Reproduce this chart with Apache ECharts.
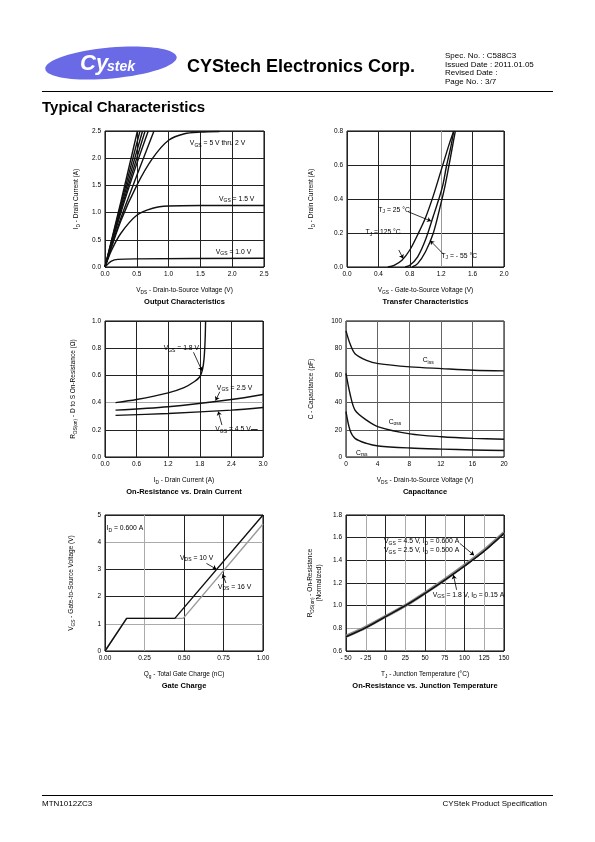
<!DOCTYPE html>
<html><head><meta charset="utf-8">
<script src="https://cdn.jsdelivr.net/npm/echarts/dist/echarts.min.js"></script>
<style>html,body{margin:0;padding:0;background:#fff}#c{width:595px;height:842px}</style>
</head><body><div id="c"></div>
<script>
// ===== DATA =====
// 1. Output characteristics  [VDS (V), ID (A)]
const outVgs5  = [[0,0],[0.25,1.2],[0.51,2.5]];
const outVgs45 = [[0,0],[0.25,1.15],[0.55,2.5]];
const outVgs4  = [[0,0],[0.25,1.1],[0.59,2.5]];
const outVgs35 = [[0,0],[0.25,1.05],[0.63,2.5]];
const outVgs3  = [[0,0],[0.25,1.0],[0.5,1.9],[0.68,2.5]];
const outVgs25 = [[0,0],[0.25,0.9],[0.5,1.68],[0.77,2.5]];
const outVgs2  = [[0,0],[0.25,0.85],[0.5,1.5],[0.75,2.0],[1.0,2.33],[1.25,2.45],[1.5,2.48],[1.8,2.49]];
const outVgs15 = [[0,0],[0.1,0.3],[0.25,0.62],[0.5,0.95],[0.75,1.08],[1.0,1.12],[1.5,1.13],[2.5,1.13]];
const outVgs10 = [[0,0],[0.05,0.06],[0.1,0.11],[0.2,0.14],[0.5,0.15],[2.5,0.16]];
// 2. Transfer characteristics [VGS (V), ID (A)]
const trT125 = [[0.52,0],[0.6,0.01],[0.7,0.04],[0.8,0.1],[0.9,0.19],[1.0,0.29],[1.1,0.42],[1.2,0.57],[1.3,0.72],[1.36,0.8]];
const trT25  = [[0.74,0],[0.8,0.01],[0.9,0.06],[1.0,0.16],[1.1,0.3],[1.17,0.4],[1.22,0.48],[1.27,0.6],[1.32,0.7],[1.36,0.8]];
const trTm55 = [[0.83,0],[0.9,0.02],[1.0,0.09],[1.1,0.2],[1.2,0.38],[1.25,0.48],[1.3,0.6],[1.34,0.7],[1.38,0.8]];
// 3. On-resistance vs drain current [ID (A), RDS(on) (ohm)]
const rdVgs18 = [[0.2,0.40],[0.6,0.423],[1.2,0.472],[1.5,0.51],[1.7,0.555],[1.8,0.59],[1.85,0.64],[1.88,0.72],[1.9,0.85],[1.91,1.0]];
const rdVgs25 = [[0.2,0.345],[1.2,0.37],[2.4,0.423],[3.0,0.46]];
const rdVgs45 = [[0.2,0.306],[1.2,0.32],[2.4,0.345],[3.0,0.364]];
// 4. Capacitance [VDS (V), C (pF)]
const capCiss = [[0,92.7],[0.5,83.4],[1.14,76],[2.6,71.1],[4.1,68.7],[8.1,66.3],[12.1,65],[16.1,63.8],[20,63.3]];
const capCoss = [[0,61.4],[0.5,46.7],[1.14,34.5],[2.6,27.1],[4.1,22.2],[8.1,17],[12.1,14.9],[16.1,13.7],[20,13]];
const capCrss = [[0,33.3],[0.5,19.8],[1.14,13.7],[2.6,10],[4.1,8.1],[8.1,6.6],[12.1,5.8],[16.1,5.2],[20,4.8]];
// 5. Gate charge [Qg (nC), VGS (V)]
const gcVds10 = [[0,0],[0.137,1.2],[0.442,1.2],[1.0,5.0]];
const gcVds16 = [[0,0],[0.137,1.2],[0.495,1.2],[1.0,4.67]];
// 6. Normalized on-resistance vs temperature [TJ (C), RDS(on) norm]
const rtVgs45 = [[-50,0.726],[-25,0.806],[0,0.903],[25,1.0],[50,1.109],[75,1.226],[100,1.35],[125,1.482],[150,1.638]];
const rtVgs25 = [[-50,0.73],[-25,0.81],[0,0.905],[25,1.0],[50,1.112],[75,1.23],[100,1.356],[125,1.49],[150,1.645]];
const rtVgs18 = [[-50,0.722],[-25,0.803],[0,0.9],[25,0.998],[50,1.107],[75,1.224],[100,1.347],[125,1.478],[150,1.632]];
// axis ranges: [min, max, interval, decimals of tick labels]
const axes = [
  {x:[0,2.5,0.5,1], y:[0,2.5,0.5,1]},
  {x:[0,2.0,0.4,1], y:[0,0.8,0.2,1]},
  {x:[0,3.0,0.6,1], y:[0,1.0,0.2,1]},
  {x:[0,20,4,0],    y:[0,100,20,0]},
  {x:[0,1.0,0.25,2],y:[0,5,1,0]},
  {x:[-50,150,25,0],y:[0.6,1.8,0.2,1]}
];

// ===== STYLE / LAYOUT =====
const FONT = 'Liberation Sans, Arial, sans-serif';
const D = '#222', L = '#aaa';
const grids = [
  {left:105, top:131, width:159, height:136},
  {left:347, top:131, width:157, height:136},
  {left:105, top:321, width:158, height:136},
  {left:346, top:321, width:158, height:136},
  {left:105, top:515, width:158, height:136},
  {left:346, top:515, width:158, height:136}
];
const xGridColors = [[D],[D,D,D,'#999',D,D],[D],['#666'],[D,L,D,D,D],[D,L,D,L,D,L,D,L,D]];
const yGridColors = [[D],[D],[D,D,L,D,D,D],['#555'],[D,L,D,D,L,D],[D,L,D,D,D,D,D]];

const RN = {n:{fontSize:6.5,fontFamily:FONT,color:'#000',lineHeight:9},
            s:{fontSize:4.8,fontFamily:FONT,color:'#000',verticalAlign:'bottom'}};
const RA = {n:{fontSize:6.8,fontFamily:FONT,color:'#000',lineHeight:9},
            s:{fontSize:5,fontFamily:FONT,color:'#000',verticalAlign:'bottom'}};
const sub = (a,b) => `{n|${a}}{s|${b}}`;
const t = a => `{n|${a}}`;

const xNames = [
  sub('V','DS')+t(' - Drain-to-Source Voltage (V)'),
  sub('V','GS')+t(' - Gate-to-Source Voltage (V)'),
  sub('I','D')+t(' - Drain Current (A)'),
  sub('V','DS')+t(' - Drain-to-Source Voltage (V)'),
  sub('Q','g')+t(' - Total Gate Charge (nC)'),
  sub('T','J')+t(' - Junction Temperature (°C)')
];
const yNames = [
  sub('I','D')+t(' - Drain Current (A)'),
  sub('I','D')+t(' - Drain Current (A)'),
  sub('R','DS(on)')+t(' - D to S On-Resistance (Ω)'),
  t('C - Capacitance (pF)'),
  sub('V','GS')+t(' - Gate-to-Source Voltage (V)'),
  sub('R','DS(on)')+t(' - On-Resistance')+'\n'+t('(Normalized)')
];
const yNameGaps = [24,31,27,30,29,22];
const titles = ['Output Characteristics','Transfer Characteristics','On-Resistance vs. Drain Current',
  'Capacitance','Gate Charge','On-Resistance vs. Junction Temperature'];

function fmtX(v, d, isT){ if (isT && v < 0) return '- ' + Math.abs(v); return v.toFixed(d); }

const xAxis = axes.map((a,i)=>({
  type:'value', gridIndex:i, min:a.x[0], max:a.x[1], interval:a.x[2],
  axisLine:{show:false}, axisTick:{show:false},
  axisLabel:{fontSize:6.5, fontFamily:FONT, color:'#000', margin:4, formatter:v=>fmtX(v,a.x[3],i===5)},
  splitLine:{show:true, lineStyle:{color:xGridColors[i], width:1}},
  name:xNames[i], nameLocation:'middle', nameGap:19, nameTextStyle:{rich:RN}
}));
const yAxis = axes.map((a,i)=>({
  type:'value', gridIndex:i, min:a.y[0], max:a.y[1], interval:a.y[2],
  axisLine:{show:false}, axisTick:{show:false},
  axisLabel:{fontSize:6.5, fontFamily:FONT, color:'#000', margin:4, formatter:v=>v.toFixed(a.y[3])},
  splitLine:{show:true, lineStyle:{color:yGridColors[i], width:1}},
  name:yNames[i], nameLocation:'middle', nameRotate:90, nameGap:yNameGaps[i], nameTextStyle:{rich:RN, align:'center'}
}));

function line(gi, data, extra){
  return Object.assign({type:'line', xAxisIndex:gi, yAxisIndex:gi, data:data, symbol:'none', showSymbol:false,
    smooth:0.3, lineStyle:{color:'#111', width:1.4}, z:3, silent:true}, extra||{});
}
function ann(x, y, text, pos){
  return {coord:[x,y], symbol:'circle', symbolSize:0,
    label:{show:true, position:pos||'inside', distance:0, formatter:text, rich:RA, color:'#000'}};
}
function ptr(x1,y1,x2,y2,arrow){
  return [{coord:[x1,y1], symbol:'none'},{coord:[x2,y2], symbol: arrow===false?'none':'arrow', symbolSize:4}];
}
function marks(points, lines){
  const o = {};
  if (points) o.markPoint = {silent:true, data:points, itemStyle:{color:'transparent'}};
  if (lines) o.markLine = {silent:true, symbolSize:4, label:{show:false}, lineStyle:{color:'#000', width:0.8, type:'solid'}, data:lines};
  return o;
}

const series = [
  // chart 1
  line(0,outVgs5,{smooth:false}), line(0,outVgs45,{smooth:false}), line(0,outVgs4,{smooth:false}),
  line(0,outVgs35,{smooth:false}), line(0,outVgs3), line(0,outVgs25), line(0,outVgs2),
  line(0,outVgs15),
  line(0,outVgs10, marks([
    ann(1.77,2.27, sub('V','GS')+t(' = 5 V thru 2 V')),
    ann(2.07,1.25, sub('V','GS')+t(' = 1.5 V')),
    ann(2.02,0.28, sub('V','GS')+t(' = 1.0 V'))
  ])),
  // chart 2
  line(1,trT125), line(1,trT25),
  line(1,trTm55, marks([
    ann(0.6,0.335, sub('T','J')+t(' = 25 °C')),
    ann(0.46,0.204, sub('T','J')+t(' = 125 °C')),
    ann(1.43,0.064, sub('T','J')+t(' = - 55 °C'))
  ],[
    ptr(0.78,0.325,1.07,0.27), ptr(0.66,0.1,0.715,0.05), ptr(1.23,0.075,1.06,0.155)
  ])),
  // chart 3
  line(2,rdVgs18), line(2,rdVgs25),
  line(2,rdVgs45, marks([
    ann(1.45,0.80, sub('V','GS')+t(' = 1.8 V')),
    ann(2.46,0.51, sub('V','GS')+t(' = 2.5 V')),
    ann(2.43,0.203, sub('V','GS')+t(' = 4.5 V'))
  ],[
    ptr(1.68,0.77,1.84,0.635), ptr(2.18,0.48,2.1,0.415), ptr(2.22,0.235,2.15,0.335),
    ptr(2.77,0.203,2.9,0.203,false)
  ])),
  // chart 4
  line(3,capCiss), line(3,capCoss),
  line(3,capCrss, marks([
    ann(10.4,71, sub('C','iss')), ann(6.2,26, sub('C','oss')), ann(2.0,3.2, sub('C','rss'))
  ])),
  // chart 5
  line(4,gcVds16,{smooth:false, lineStyle:{color:'#999', width:1.4}}),
  line(4,gcVds10,Object.assign({smooth:false}, marks([
    ann(0.01,4.5, sub('I','D')+t(' = 0.600 A'), 'right'),
    ann(0.58,3.42, sub('V','DS')+t(' = 10 V')),
    ann(0.82,2.35, sub('V','DS')+t(' = 16 V'))
  ],[
    ptr(0.642,3.22,0.705,3.01), ptr(0.765,2.5,0.745,2.82)
  ]))),
  // chart 6
  line(5,rtVgs25,{lineStyle:{color:'#888', width:3.2}}),
  line(5,rtVgs18,{lineStyle:{color:'#333', width:1}}),
  line(5,rtVgs45, marks([
    ann(45.8,1.528, sub('V','GS')+t(' = 4.5 V, ')+sub('I','D')+t(' = 0.600 A')+'\n'+sub('V','GS')+t(' = 2.5 V, ')+sub('I','D')+t(' = 0.500 A')),
    ann(105,1.094, sub('V','GS')+t(' = 1.8 V, ')+sub('I','D')+t(' = 0.15 A'))
  ],[
    ptr(94,1.55,112,1.445), ptr(90,1.14,86,1.27)
  ]))
];

// titles under each chart
const graphicTitles = grids.map((g,i)=>({
  type:'text', x:g.left+g.width/2, y:g.top+g.height+34.5,
  style:{text:titles[i], font:'bold 7.5px '+FONT, fill:'#000', align:'center', verticalAlign:'middle', textAlign:'center', textVerticalAlign:'middle'}
}));

const headerText = (text,x,y,font,align) => ({type:'text', x:x, y:y,
  style:{text:text, font:font, fill:'#000', align:align||'left', verticalAlign:'middle', textAlign:align||'left', textVerticalAlign:'middle'}});

const graphic = [
  {type:'ellipse', x:111, y:63, rotation:0.09, shape:{cx:0, cy:0, rx:66, ry:15.5}, style:{fill:'#6a6ae6'}},
  {type:'text', x:80, y:64, style:{text:'Cy', font:'italic bold 22px '+FONT, fill:'#fff', verticalAlign:'middle', textVerticalAlign:'middle'}},
  {type:'text', x:107, y:67, style:{text:'stek', font:'italic bold 14px '+FONT, fill:'#fff', verticalAlign:'middle', textVerticalAlign:'middle'}},
  headerText('CYStech Electronics Corp.', 187, 67, 'bold 18px '+FONT),
  headerText('Spec. No. : C588C3', 445, 56, '8px '+FONT),
  headerText('Issued Date : 2011.01.05', 445, 64.5, '8px '+FONT),
  headerText('Revised Date :', 445, 73, '8px '+FONT),
  headerText('Page No. : 3/7', 445, 81.5, '8px '+FONT),
  {type:'line', shape:{x1:42, y1:91.5, x2:553, y2:91.5}, style:{stroke:'#000', lineWidth:1}},
  headerText('Typical Characteristics', 42, 108, 'bold 15px '+FONT),
  {type:'line', shape:{x1:42, y1:795.5, x2:553, y2:795.5}, style:{stroke:'#000', lineWidth:1}},
  headerText('MTN1012ZC3', 42, 804, '8px '+FONT),
  headerText('CYStek Product Specification', 547, 804, '8px '+FONT, 'right')
].concat(graphicTitles);

const chart = echarts.init(document.getElementById('c'), null, {renderer:'canvas'});
chart.setOption({
  animation:false,
  backgroundColor:'#fff',
  textStyle:{fontFamily:FONT},
  grid: grids.map(g=>Object.assign({show:true, borderColor:'#000', borderWidth:1, backgroundColor:'transparent', containLabel:false}, g)),
  xAxis, yAxis, series, graphic
});
</script>
</body></html>
